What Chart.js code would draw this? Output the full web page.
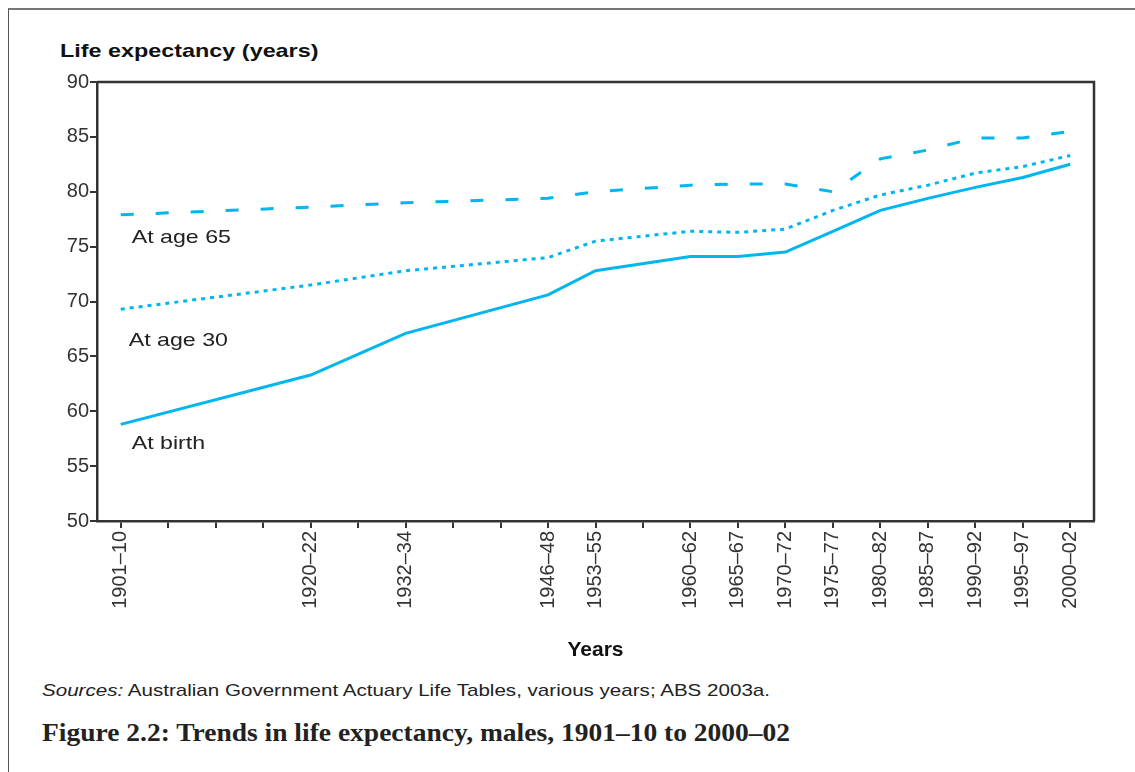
<!DOCTYPE html>
<html>
<head>
<meta charset="utf-8">
<script src="https://cdn.jsdelivr.net/npm/chart.js@4.4.1/dist/chart.umd.min.js"></script>
<style>
    html, body { margin: 0; padding: 0; background: #fff; }
    body { width: 1135px; height: 772px; position: relative; overflow: hidden; font-family: "Liberation Sans", Arial, sans-serif; }
    .frame { position: absolute; left: 8px; top: 8px; right: -2px; bottom: -2px; border-left: 1px solid #555; border-top: 2px solid #777; }
    .chart-box { position: absolute; left: 0; top: 0; width: 1135px; height: 668px; }
    .stretch { transform-origin: 0 0; white-space: nowrap; }
    .y-title { position: absolute; left: 60px; top: 40px; font-weight: bold; font-size: 19px; color: #111; transform: scaleX(1.23); }
    .sources { position: absolute; left: 42px; top: 681px; font-size: 17px; color: #222; transform: scaleX(1.21); }
    .caption { position: absolute; left: 42px; top: 719px; font-family: "Liberation Serif", "Times New Roman", serif; font-weight: bold; font-size: 25px; color: #222; transform: scaleX(1.1); }
</style>
</head>
<body>
<div class="frame"></div>
<div class="y-title stretch">Life expectancy (years)</div>
<div class="chart-box"><canvas id="lifeChart" width="1135" height="668"></canvas></div>
<div class="sources stretch"><i>Sources:</i> Australian Government Actuary Life Tables, various years; ABS 2003a.</div>
<div class="caption stretch">Figure 2.2: Trends in life expectancy, males, 1901–10 to 2000–02</div>

<script>
// x axis runs in 5-year steps; blank entries are unlabelled ticks
const periods = ['1901–10', '', '', '', '1920–22', '', '1932–34', '', '', '1946–48', '1953–55', '',
    '1960–62', '1965–67', '1970–72', '1975–77', '1980–82', '1985–87', '1990–92', '1995–97', '2000–02'];

// values for the labelled periods only (in the same order)
const atBirth = [58.8, 63.3, 67.1, 70.6, 72.8, 74.1, 74.1, 74.5, 76.4, 78.3, 79.4, 80.4, 81.3, 82.5];
const atAge30 = [69.3, 71.5, 72.8, 74.0, 75.5, 76.4, 76.3, 76.6, 78.3, 79.7, 80.6, 81.7, 82.3, 83.3];
const atAge65 = [77.9, 78.6, 79.0, 79.4, 80.0, 80.6, 80.7, 80.7, 80.0, 83.0, 83.8, 84.9, 84.9, 85.5];

const yTicks = [50, 55, 60, 65, 70, 75, 80, 85, 90];

const lineColor = '#00B6EE';
const axisColor = '#333333';
const sans = '"Liberation Sans", Arial, sans-serif';

// spread the series over the full category list, null where no label
function spread(values) {
    const out = [];
    let i = 0;
    periods.forEach(p => {
        out.push(p === '' ? null : values[i++]);
    });
    return out;
}

// line labels drawn next to the first point of each series
const seriesLabels = [
    { text: 'At age 65', dataset: 2, dx: 11, dy: 23 },
    { text: 'At age 30', dataset: 1, dx: 8, dy: 32 },
    { text: 'At birth', dataset: 0, dx: 11, dy: 19 }
];

const frameAndLabels = {
    id: 'frameAndLabels',
    afterDraw(chart) {
        const ctx = chart.ctx;
        const area = chart.chartArea;
        ctx.save();
        ctx.strokeStyle = axisColor;
        ctx.lineWidth = 2.5;
        ctx.beginPath();
        ctx.moveTo(area.left, area.top);
        ctx.lineTo(area.right, area.top);
        ctx.lineTo(area.right, area.bottom);
        ctx.stroke();

        ctx.fillStyle = '#222';
        ctx.font = '19px ' + sans;
        ctx.textBaseline = 'middle';
        seriesLabels.forEach(l => {
            const pt = chart.getDatasetMeta(l.dataset).data[0];
            ctx.save();
            ctx.translate(pt.x + l.dx, pt.y + l.dy);
            ctx.scale(1.22, 1);
            ctx.fillText(l.text, 0, 0);
            ctx.restore();
        });
        ctx.restore();
    }
};

const ctx = document.getElementById('lifeChart').getContext('2d');
new Chart(ctx, {
    type: 'line',
    data: {
        labels: periods,
        datasets: [
            {
                label: 'At birth',
                data: spread(atBirth),
                borderColor: lineColor,
                borderWidth: 3,
                pointRadius: 0,
                spanGaps: true,
                tension: 0
            },
            {
                label: 'At age 30',
                data: spread(atAge30),
                borderColor: lineColor,
                borderWidth: 3,
                borderDash: [4, 5],
                pointRadius: 0,
                spanGaps: true,
                tension: 0
            },
            {
                label: 'At age 65',
                data: spread(atAge65),
                borderColor: lineColor,
                borderWidth: 3,
                borderDash: [13, 22],
                pointRadius: 0,
                spanGaps: true,
                tension: 0
            }
        ]
    },
    options: {
        responsive: false,
        animation: false,
        layout: {
            padding: { top: 82, right: 41, bottom: 0, left: 0 }
        },
        plugins: {
            legend: { display: false },
            tooltip: { enabled: false }
        },
        scales: {
            x: {
                type: 'category',
                offset: true,
                grid: {
                    drawOnChartArea: false,
                    offset: false,
                    tickLength: 7,
                    color: axisColor,
                    lineWidth: 2
                },
                border: { color: axisColor, width: 2.5 },
                ticks: {
                    autoSkip: false,
                    maxRotation: 90,
                    minRotation: 90,
                    padding: 3,
                    color: '#333',
                    font: { family: sans, size: 20 }
                },
                title: {
                    display: true,
                    text: 'Years',
                    color: '#111',
                    font: { family: sans, size: 21, weight: 'bold' },
                    padding: { top: 4, bottom: 5 }
                },
                afterFit(scale) {
                    scale.height = 147;
                }
            },
            y: {
                min: 50,
                max: 90,
                afterBuildTicks(scale) {
                    scale.ticks = yTicks.map(v => ({ value: v }));
                },
                grid: {
                    drawOnChartArea: false,
                    tickLength: 7,
                    color: axisColor,
                    lineWidth: 2
                },
                border: { color: axisColor, width: 2.5 },
                ticks: {
                    padding: 1,
                    color: '#333',
                    font: { family: sans, size: 20 }
                },
                afterFit(scale) {
                    scale.width = 97;
                }
            }
        }
    },
    plugins: [frameAndLabels]
});
</script>
</body>
</html>
